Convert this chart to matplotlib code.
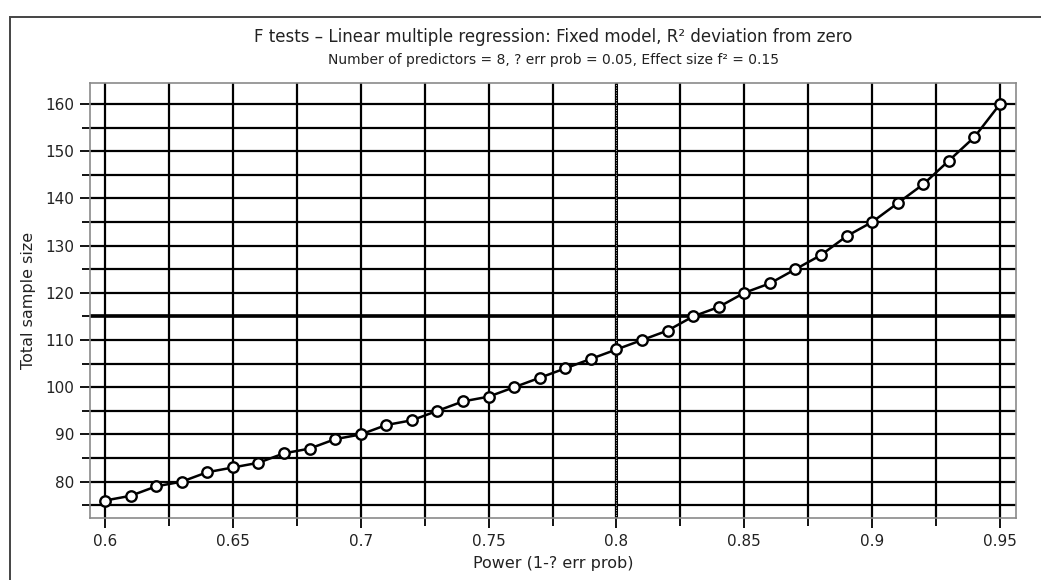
import matplotlib
matplotlib.use("Agg")
import matplotlib.pyplot as plt
import matplotlib.patches as mpatches

# Power (1 - beta) and the total sample size needed at each level
power = [0.60, 0.61, 0.62, 0.63, 0.64, 0.65, 0.66, 0.67, 0.68, 0.69,
         0.70, 0.71, 0.72, 0.73, 0.74, 0.75, 0.76, 0.77, 0.78, 0.79,
         0.80, 0.81, 0.82, 0.83, 0.84, 0.85, 0.86, 0.87, 0.88, 0.89,
         0.90, 0.91, 0.92, 0.93, 0.94, 0.95]
sample_size = [76, 77, 79, 80, 82, 83, 84, 86, 87, 89,
               90, 92, 93, 95, 97, 98, 100, 102, 104, 106,
               108, 110, 112, 115, 117, 120, 122, 125, 128, 132,
               135, 139, 143, 148, 153, 160]

x_major = [0.6, 0.65, 0.7, 0.75, 0.8, 0.85, 0.9, 0.95]
x_labels = ["0.6", "0.65", "0.7", "0.75", "0.8", "0.85", "0.9", "0.95"]
x_minor = [0.625, 0.675, 0.725, 0.775, 0.825, 0.875, 0.925]
y_major = [80, 90, 100, 110, 120, 130, 140, 150, 160]
y_minor = [75, 85, 95, 105, 115, 125, 135, 145, 155]

title = "F tests \u2013 Linear multiple regression: Fixed model, R\u00b2 deviation from zero"
subtitle = "Number of predictors = 8, ? err prob = 0.05, Effect size f\u00b2 = 0.15"

text_color = "#222222"
frame_grey = "#8a8a8a"

fig = plt.figure(figsize=(10.41, 5.80), dpi=100)

# outer panel frame, running off the right and bottom edges
fig.add_artist(mpatches.Rectangle((10 / 1041, -0.05), 1.1, 1 - 17 / 580 + 0.05,
                                  transform=fig.transFigure, fill=False,
                                  edgecolor="#444444", linewidth=1.4))

ax = fig.add_axes([90 / 1041, 62 / 580, 926 / 1041, 435 / 580])

# grid on every major and minor position
for xv in x_major + x_minor:
    ax.axvline(xv, color="black", linewidth=1.6, zorder=1)
for yv in y_major + y_minor:
    ax.axhline(yv, color="black", linewidth=1.6, zorder=1)
ax.axhline(115, color="black", linewidth=2.6, zorder=1)
ax.axvline(0.8, color="black", linewidth=2.2, zorder=1)
ax.axvline(0.8, color="white", linewidth=0.6, linestyle=(0, (1, 2)), zorder=1.5)

ax.plot(power, sample_size, color="black", linewidth=1.8, zorder=3,
        marker="o", markersize=7.5, markerfacecolor="white",
        markeredgecolor="black", markeredgewidth=1.7)

ax.set_xlim(0.59414, 0.95625)
ax.set_ylim(72.3, 164.45)

ax.set_xticks(x_major)
ax.set_xticklabels(x_labels)
ax.set_xticks(x_minor, minor=True)
ax.set_yticks(y_major)
ax.set_yticks(y_minor, minor=True)

ax.tick_params(axis="both", which="major", direction="out", length=7.5,
               width=1.3, color="black", labelsize=11, labelcolor=text_color, pad=4)
ax.tick_params(axis="both", which="minor", direction="out", length=5.5,
               width=1.3, color="black")

for s in ax.spines.values():
    s.set_color(frame_grey)
    s.set_linewidth(1.2)

ax.set_xlabel("Power (1-? err prob)", fontsize=11.5, color=text_color, labelpad=5)
ax.set_ylabel("Total sample size", fontsize=11.5, color=text_color, labelpad=6.5)

fig.text(553 / 1041, 1 - 37 / 580, title, ha="center", va="center",
         fontsize=12, color=text_color)
fig.text(553 / 1041, 1 - 60 / 580, subtitle, ha="center", va="center",
         fontsize=10, color=text_color)

fig.savefig("out.png", dpi=100)
